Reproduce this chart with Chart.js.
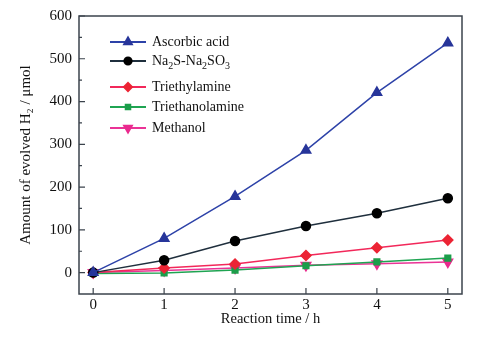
<!DOCTYPE html>
<html>
<head>
<meta charset="utf-8">
<script src="https://cdn.jsdelivr.net/npm/chart.js@4/dist/chart.umd.min.js"></script>
<style>
  html, body { margin: 0; padding: 0; background: #fff; }
  #wrap { width: 479px; height: 340px; }
</style>
</head>
<body>
<div id="wrap"><canvas id="h2Chart"></canvas></div>
<script>
// data
const hours = [0, 1, 2, 3, 4, 5];
const ascorbic = [0, 80, 178, 286, 421, 537];
const na2s = [0, 29, 74, 109, 139, 174];
const triethylamine = [0, 11, 20, 40, 58, 76];
const triethanolamine = [-2, -1, 6, 16, 25, 34];
const methanol = [0, 5, 11, 17, 21, 25];
const yTicks = [0, 100, 200, 300, 400, 500, 600];
const yMinor = [50, 150, 250, 350, 450, 550];

const serif = "'Liberation Serif', 'DejaVu Serif', serif";

function series(label, data, line, fill, style, r, rot) {
  return {
    label: label,
    data: data.map((v, i) => ({ x: hours[i], y: v })),
    borderColor: line,
    backgroundColor: fill,
    pointBackgroundColor: fill,
    pointBorderColor: fill,
    pointStyle: style,
    pointRadius: r,
    pointRotation: rot || 0,
    borderWidth: 1.5,
    tension: 0
  };
}

const datasets = [
  series("Ascorbic acid", ascorbic, "#2d42a8", "#27359a", "triangle", 5.5),
  series("Na2S-Na2SO3", na2s, "#1f2f3d", "#000000", "circle", 4.5),
  series("Triethylamine", triethylamine, "#f2285a", "#ec2434", "rectRot", 5),
  series("Triethanolamine", triethanolamine, "#1fa452", "#1b9e4a", "rect", 4),
  series("Methanol", methanol, "#ea3396", "#ea2a8e", "triangle", 5.5, 180)
];

// legend entries (Na2S-Na2SO3 needs subscripts)
const legendRows = [
  { y: 42, parts: [["Ascorbic acid", 0]] },
  { y: 61, parts: [["Na", 0], ["2", 1], ["S-Na", 0], ["2", 1], ["SO", 0], ["3", 1]] },
  { y: 87, parts: [["Triethylamine", 0]] },
  { y: 107, parts: [["Triethanolamine", 0]] },
  { y: 128, parts: [["Methanol", 0]] }
];

const framePlugin = {
  id: "frame",
  afterDraw(chart) {
    const ctx = chart.ctx;
    const a = chart.chartArea;
    const xs = chart.scales.x, ys = chart.scales.y;
    ctx.save();
    ctx.strokeStyle = "#3b434c";
    ctx.lineWidth = 1.5;
    ctx.strokeRect(a.left, a.top, a.right - a.left, a.bottom - a.top);
    // inward tick marks
    ctx.lineWidth = 1.2;
    ctx.beginPath();
    hours.forEach(h => {
      const px = xs.getPixelForValue(h);
      ctx.moveTo(px, a.bottom);
      ctx.lineTo(px, a.bottom - 6);
    });
    yTicks.forEach(v => {
      const py = ys.getPixelForValue(v);
      ctx.moveTo(a.left, py);
      ctx.lineTo(a.left + 6, py);
    });
    yMinor.forEach(v => {
      const py = ys.getPixelForValue(v);
      ctx.moveTo(a.left, py);
      ctx.lineTo(a.left + 3, py);
    });
    ctx.stroke();

    // legend
    legendRows.forEach((row, i) => {
      const ds = chart.data.datasets[i];
      ctx.strokeStyle = ds.borderColor;
      ctx.lineWidth = 2;
      ctx.beginPath();
      ctx.moveTo(110, row.y);
      ctx.lineTo(146, row.y);
      ctx.stroke();
      ctx.fillStyle = ds.pointBackgroundColor;
      ctx.strokeStyle = ds.pointBorderColor;
      Chart.helpers.drawPoint(ctx, {
        pointStyle: ds.pointStyle,
        radius: ds.pointRadius * 0.8,
        rotation: ds.pointRotation,
        borderWidth: 1
      }, 128, row.y);
      ctx.fillStyle = "#111";
      ctx.textBaseline = "middle";
      let x = 152;
      row.parts.forEach(([t, sub]) => {
        ctx.font = (sub ? "10px " : "14px ") + serif;
        ctx.fillText(t, x, row.y + (sub ? 5 : 0));
        x += ctx.measureText(t).width;
      });
    });
    ctx.restore();
  }
};

const ctx = document.getElementById("h2Chart").getContext("2d");
new Chart(ctx, {
  type: "line",
  data: { datasets: datasets },
  options: {
    responsive: true,
    maintainAspectRatio: false,
    animation: false,
    layout: { padding: { left: 0, right: 17, top: 14, bottom: 0 } },
    plugins: { legend: { display: false }, tooltip: { enabled: false } },
    scales: {
      x: {
        type: "linear",
        min: -0.2,
        max: 5.2,
        grid: { display: false, drawTicks: false, tickLength: 0 },
        border: { display: false },
        afterBuildTicks: s => { s.ticks = hours.map(v => ({ value: v })); },
        afterFit: s => { s.height = 46; },
        ticks: { color: "#111", padding: 2, font: { family: serif, size: 15 } },
        title: {
          display: true,
          text: "Reaction time / h",
          color: "#111",
          padding: { top: 0, bottom: 12 },
          font: { family: serif, size: 14.5 }
        }
      },
      y: {
        min: -50,
        max: 600,
        grid: { display: false, drawTicks: false, tickLength: 0 },
        border: { display: false },
        afterBuildTicks: s => { s.ticks = yTicks.map(v => ({ value: v })); },
        afterFit: s => { s.width = 79; },
        ticks: { color: "#111", padding: 7, font: { family: serif, size: 15 } },
        title: {
          display: true,
          text: "Amount of evolved H\u2082 / \u03bcmol",
          color: "#111",
          padding: { top: 17, bottom: 0 },
          font: { family: serif, size: 15 }
        }
      }
    }
  },
  plugins: [framePlugin]
});
</script>
</body>
</html>
